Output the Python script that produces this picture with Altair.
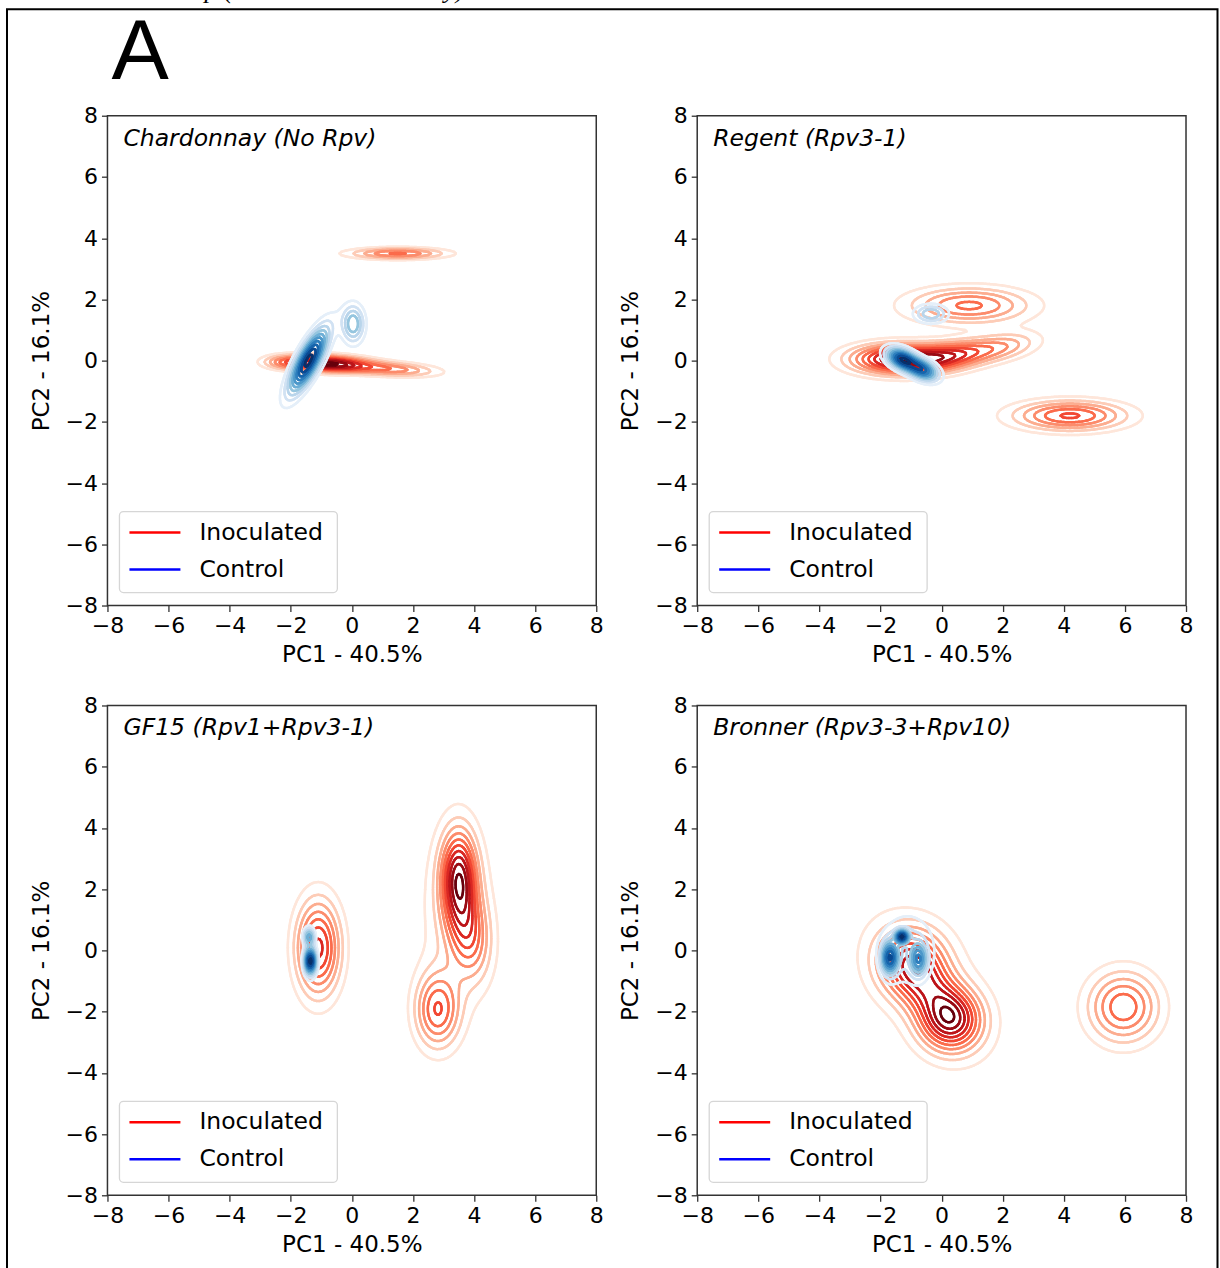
import numpy as np
import pandas as pd
import altair as alt

alt.data_transformers.disable_max_rows()

# ---------------- data ----------------
panel_titles = ["Chardonnay (No Rpv)", "Regent (Rpv3-1)",
                "GF15 (Rpv1+Rpv3-1)", "Bronner (Rpv3-3+Rpv10)"]
x_title = "PC1 - 40.5%"
y_title = "PC2 - 16.1%"
legend_labels = ["Inoculated", "Control"]
legend_colors = ["#ff0000", "#0000ff"]
tick_values = [-8, -6, -4, -2, 0, 2, 4, 6, 8]
panel_letter = "A"
caption_bits = ["p (", "y)"]   # bottom edge of the cropped caption line above the figure

reds = ["#fff5f0", "#fee0d2", "#fcbba1", "#fc9272", "#fb6a4a", "#ef3b2c", "#cb181d", "#a50f15", "#67000d"]
blues = ["#f7fbff", "#deebf7", "#c6dbef", "#9ecae1", "#6baed6", "#4292c6", "#2171b5", "#08519c", "#08306b"]

# density blobs estimated from the contour shapes:
# (centre PC1, centre PC2, spread along axis, spread across, tilt deg, relative peak)
chardonnay_inoc = [(-0.8, -0.1, 0.9, 0.17, -2, 1.0), (1.3, -0.28, 1.0, 0.15, -3, 0.45),
                   (-2.2, -0.05, 0.5, 0.15, 0, 0.3), (1.5, 3.5, 1.05, 0.12, 0, 0.52)]
chardonnay_ctrl = [(-1.42, 0.0, 0.8, 0.24, 62, 1.0), (0.04, 1.2, 0.25, 0.42, 0, 0.47)]
regent_inoc = [(-1.35, 0.05, 1.1, 0.33, 0, 1.0), (0.4, 0.2, 0.9, 0.3, 8, 0.55),
               (2.0, 0.45, 0.85, 0.3, 10, 0.35), (0.9, 1.8, 1.35, 0.4, 0, 0.56),
               (4.2, -1.8, 1.25, 0.33, 0, 0.66)]
regent_ctrl = [(-1.3, 0.05, 0.36, 0.21, -25, 1.0), (-0.62, -0.3, 0.36, 0.21, -25, 0.85),
               (-0.35, 1.53, 0.36, 0.2, 0, 0.42)]
gf15_inoc = [(-1.1, 0.08, 0.5, 1.08, 0, 0.9), (3.5, 2.4, 0.4, 1.05, 0, 1.0),
             (3.85, 0.5, 0.45, 1.0, 5, 0.55), (2.8, -1.95, 0.5, 0.85, 0, 0.7),
             (3.4, 1.1, 0.85, 2.1, 0, 0.22)]
gf15_ctrl = [(-1.36, -0.35, 0.13, 0.3, 0, 1.0), (-1.4, 0.45, 0.12, 0.2, 0, 0.5)]
bronner_inoc = [(0.3, -2.3, 0.7, 0.7, 0, 1.0), (-1.0, -0.35, 0.8, 0.8, 0, 0.75),
                (-0.4, -1.3, 1.0, 0.6, -50, 0.5), (-0.45, -1.15, 2.1, 1.15, -52, 0.2),
                (5.95, -1.85, 0.8, 0.8, 0, 0.8)]
bronner_ctrl = [(-1.3, 0.45, 0.14, 0.14, 0, 0.9), (-1.7, -0.25, 0.18, 0.36, 0, 0.85),
                (-0.75, -0.3, 0.18, 0.36, 0, 0.6), (-1.12, 0.05, 0.62, 0.78, 0, 0.28)]

panels_inoc = [chardonnay_inoc, regent_inoc, gf15_inoc, bronner_inoc]
panels_ctrl = [chardonnay_ctrl, regent_ctrl, gf15_ctrl, bronner_ctrl]

# ---------------- KDE-style contours (10 linear levels) ----------------
gx = np.linspace(-8, 8, 321)
gy = np.linspace(-8, 8, 321)
GX, GY = np.meshgrid(gx, gy)


def density(comps):
    Z = np.zeros_like(GX)
    for cx, cy, sx, sy, ang, h in comps:
        th = np.deg2rad(ang)
        u = (GX - cx) * np.cos(th) + (GY - cy) * np.sin(th)
        v = -(GX - cx) * np.sin(th) + (GY - cy) * np.cos(th)
        Z += h * np.exp(-0.5 * (u ** 2 / sx ** 2 + v ** 2 / sy ** 2))
    return Z / Z.max() * 1.04


def nice_levels(zmin, zmax, nbins=11):
    raw = (zmax - zmin) / nbins
    scale = 10 ** np.floor(np.log10(raw))
    for s in [1, 2, 2.5, 5, 10]:
        step = s * scale
        lo = np.floor(zmin / step) * step
        hi = np.ceil(zmax / step) * step
        if (hi - lo) / step <= nbins + 1e-9:
            break
    levs = np.arange(lo, hi + step / 2, step)
    return levs[(levs > zmin) & (levs < zmax)]


def march(Z, lev):
    a = Z[:-1, :-1]; b = Z[:-1, 1:]; c = Z[1:, 1:]; d = Z[1:, :-1]
    A = a > lev; B = b > lev; C = c > lev; D = d > lev
    ny, nx = a.shape
    X0 = np.broadcast_to(gx[:-1][None, :], (ny, nx)); X1 = np.broadcast_to(gx[1:][None, :], (ny, nx))
    Y0 = np.broadcast_to(gy[:-1][:, None], (ny, nx)); Y1 = np.broadcast_to(gy[1:][:, None], (ny, nx))
    with np.errstate(divide="ignore", invalid="ignore"):
        t0 = (lev - a) / (b - a)
        t1 = (lev - b) / (c - b)
        t2 = (lev - d) / (c - d)
        t3 = (lev - a) / (d - a)
    PX = np.stack([X0 + t0 * (X1 - X0), X1, X0 + t2 * (X1 - X0), X0], -1)
    PY = np.stack([Y0, Y0 + t1 * (Y1 - Y0), Y1, Y0 + t3 * (Y1 - Y0)], -1)
    CR = np.stack([A != B, B != C, D != C, A != D], -1)
    n = CR.sum(-1)
    out = []
    jj, ii = np.nonzero(n == 2)
    if len(jj):
        sub = CR[jj, ii]
        e = np.argsort(~sub, axis=1, kind="stable")[:, :2]
        px = PX[jj, ii]; py = PY[jj, ii]
        r = np.arange(len(jj))
        out.append(np.column_stack([px[r, e[:, 0]], py[r, e[:, 0]], px[r, e[:, 1]], py[r, e[:, 1]]]))
    jj, ii = np.nonzero(n == 4)
    for j, i in zip(jj, ii):
        cen = (a[j, i] + b[j, i] + c[j, i] + d[j, i]) / 4 > lev
        pairs = [(0, 1), (2, 3)] if cen == A[j, i] else [(0, 3), (1, 2)]
        for p, q in pairs:
            out.append(np.array([[PX[j, i, p], PY[j, i, p], PX[j, i, q], PY[j, i, q]]]))
    return np.vstack(out) if out else np.zeros((0, 4))


def contour_df(comps):
    Z = density(comps)
    levels = nice_levels(float(Z.min()), float(Z.max()))
    lo, hi = levels[0], levels[-1]
    frames = []
    for lev in levels:
        s = march(Z, lev)
        if len(s) == 0:
            continue
        df = pd.DataFrame(np.round(s, 3), columns=["x", "y", "x2", "y2"])
        df["t"] = round(float((lev - lo) / (hi - lo)), 4)
        frames.append(df)
    return pd.concat(frames, ignore_index=True)


# ---------------- chart ----------------
FONT = "DejaVu Sans"
W, H = 489, 490
one = pd.DataFrame({"k": [0]})
cmap_domain = list(np.round(np.linspace(-0.1, 1.0, 9), 4))


def panel(i):
    xsc = alt.Scale(domain=[-8, 8], nice=False, zero=False)
    ysc = alt.Scale(domain=[-8, 8], nice=False, zero=False)
    xax = alt.Axis(values=tick_values, format="d", title=x_title, labelFlush=False,
                   labelOverlap=False, titlePadding=7)
    yax = alt.Axis(values=tick_values, format="d", title=y_title, labelFlush=False,
                   labelOverlap=False, titlePadding=12)
    layers = []
    for comps, cols in ((panels_inoc[i], reds), (panels_ctrl[i], blues)):
        layers.append(alt.Chart(contour_df(comps)).mark_rule(
            strokeWidth=2.5, strokeCap="round", clip=True).encode(
            x=alt.X("x:Q", scale=xsc, axis=xax), y=alt.Y("y:Q", scale=ysc, axis=yax),
            x2="x2:Q", y2="y2:Q",
            color=alt.Color("t:Q", scale=alt.Scale(domain=cmap_domain, range=cols, clamp=True),
                            legend=None)))
    layers.append(alt.Chart(one).mark_text(text=panel_titles[i], font=FONT, fontSize=23.5,
                                           fontStyle="italic", align="left", baseline="alphabetic",
                                           color="black").encode(x=alt.value(16), y=alt.value(30)))
    layers.append(alt.Chart(one).mark_rect(fill="white", fillOpacity=0.8, stroke="#d6d6d6",
                                           strokeWidth=1.3, cornerRadius=4).encode(
        x=alt.value(12), x2=alt.value(230), y=alt.value(396), y2=alt.value(477)))
    for k, (lab, col) in enumerate(zip(legend_labels, legend_colors)):
        yy = 417 + 37 * k
        layers.append(alt.Chart(one).mark_rule(color=col, strokeWidth=2.5).encode(
            x=alt.value(22), x2=alt.value(73), y=alt.value(yy)))
        layers.append(alt.Chart(one).mark_text(text=lab, font=FONT, fontSize=23.5, align="left",
                                               baseline="middle", color="black").encode(
            x=alt.value(92), y=alt.value(yy)))
    if i == 0:
        layers.append(alt.Chart(one).mark_rect(fillOpacity=0, stroke="black", strokeWidth=2).encode(
            x=alt.value(-100.5), x2=alt.value(1110.5), y=alt.value(-106.5), y2=alt.value(1200)))
        layers.append(alt.Chart(one).mark_text(text=panel_letter, font="Liberation Sans", fontSize=86,
                                               align="left", baseline="alphabetic", color="black").encode(
            x=alt.value(4), y=alt.value(-37)))
        for txt, xx in zip(caption_bits, [97, 337]):
            layers.append(alt.Chart(one).mark_text(text=txt, font="Liberation Serif", fontSize=26,
                                                   fontStyle="italic", align="left", baseline="alphabetic",
                                                   color="black").encode(
                x=alt.value(xx), y=alt.value(-118)))
    return alt.layer(*layers).resolve_scale(color="independent").properties(width=W, height=H)


chart = alt.ConcatChart(
    concat=[panel(i) for i in range(4)], columns=2,
    spacing=alt.RowColnumber(row=100, column=101), bounds="flush",
).properties(
    padding={"left": 4.5, "top": -24.5, "right": 0, "bottom": 0}, background="white"
).configure_axis(
    labelFont=FONT, labelFontSize=22, labelColor="black", titleFont=FONT, titleFontSize=23,
    titleFontWeight="normal", titleColor="black", tickColor="#333333", tickSize=6, tickWidth=1.3,
    domain=False, grid=False, labelPadding=4,
).configure_view(stroke="#333333", strokeWidth=1.5)

chart.save("out.html", embed_options={"renderer": "svg", "actions": False})
